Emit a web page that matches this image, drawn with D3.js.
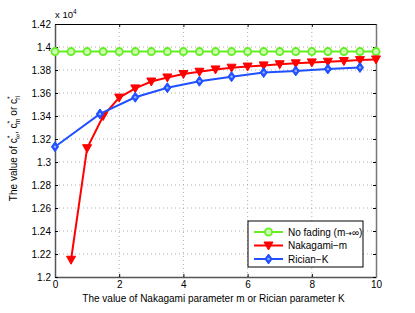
<!DOCTYPE html>
<html>
<head>
<meta charset="utf-8">
<script src="https://cdn.jsdelivr.net/npm/d3@7"></script>
<style>
  body { margin: 0; background: #fff; }
  svg { font-family: "Liberation Sans", Arial, sans-serif; }
</style>
</head>
<body>
<script>
// values in units of 10^4
const xNoFade = [0, 0.5, 1, 1.5, 2, 2.5, 3, 3.5, 4, 4.5, 5, 5.5, 6, 6.5, 7, 7.5, 8, 8.5, 9, 9.5, 10];
const yNoFade = [1.396, 1.396, 1.396, 1.396, 1.396, 1.396, 1.396, 1.396, 1.396, 1.396, 1.396,
  1.396, 1.396, 1.396, 1.396, 1.396, 1.396, 1.396, 1.396, 1.396, 1.396];

const xNaka = [0.5, 1, 1.5, 2, 2.5, 3, 3.5, 4, 4.5, 5, 5.5, 6, 6.5, 7, 7.5, 8, 8.5, 9, 9.5, 10];
const yNaka = [1.215, 1.312, 1.340, 1.356, 1.364, 1.370, 1.3735, 1.3765, 1.3785, 1.3805, 1.382,
  1.383, 1.384, 1.385, 1.3858, 1.3866, 1.3872, 1.3878, 1.3886, 1.3892];

const xRice = [0, 1.4, 2.5, 3.5, 4.5, 5.5, 6.5, 7.5, 8.5, 9.5];
const yRice = [1.3133, 1.3418, 1.3563, 1.3646, 1.3702, 1.3742, 1.3778, 1.3792, 1.3809, 1.3822];

const xTicks = [0, 2, 4, 6, 8, 10];
const yTicks = [1.2, 1.22, 1.24, 1.26, 1.28, 1.3, 1.32, 1.34, 1.36, 1.38, 1.4, 1.42];

const W = 415, H = 313;
const mLeft = 55, mRight = 376, mTop = 24, mBottom = 277;

const svg = d3.select("body").append("svg").attr("width", W).attr("height", H);

const x = d3.scaleLinear().domain([0, 10]).range([mLeft, mRight]);
const y = d3.scaleLinear().domain([1.2, 1.42]).range([mBottom, mTop]);

// grid
const grid = svg.append("g")
  .attr("stroke", "#999")
  .attr("stroke-width", 0.8)
  .attr("stroke-dasharray", "1,3");
grid.selectAll("line.v").data(xTicks.slice(1, -1)).join("line").attr("class", "v")
  .attr("x1", d => x(d)).attr("x2", d => x(d)).attr("y1", mTop).attr("y2", mBottom);
grid.selectAll("line.h").data(yTicks.slice(1, -1)).join("line").attr("class", "h")
  .attr("x1", mLeft).attr("x2", mRight).attr("y1", d => y(d)).attr("y2", d => y(d));

// axes
const fmt = d => String(+d.toFixed(2));
svg.append("g").attr("transform", `translate(0,${mBottom})`)
  .call(d3.axisBottom(x).tickValues(xTicks).tickSizeInner(-3).tickSizeOuter(0).tickPadding(4))
  .call(g => g.select(".domain").attr("stroke", "#555").attr("stroke-width", 1.5));
svg.append("g").attr("transform", `translate(0,${mTop})`)
  .call(d3.axisTop(x).tickValues(xTicks).tickSizeInner(-3).tickSizeOuter(0).tickFormat(""))
  .call(g => g.select(".domain").attr("stroke-width", 1));
svg.append("g").attr("transform", `translate(${mLeft},0)`)
  .call(d3.axisLeft(y).tickValues(yTicks).tickSizeInner(-3).tickSizeOuter(0).tickPadding(4).tickFormat(fmt))
  .call(g => g.select(".domain").attr("stroke", "#555").attr("stroke-width", 1.5));
svg.append("g").attr("transform", `translate(${mRight},0)`)
  .call(d3.axisRight(y).tickValues(yTicks).tickSizeInner(-3).tickSizeOuter(0).tickFormat(""))
  .call(g => g.select(".domain").attr("stroke", "#777").attr("stroke-width", 1.5));
svg.selectAll(".tick text").attr("font-size", 10).attr("fill", "#000")
  .attr("font-family", "Liberation Sans, Arial, sans-serif");
svg.selectAll(".tick line").attr("stroke", "#000");

// series
const series = [
  { name: ["No fading (m", "\u2192", "\u221e)"], xs: xNoFade, ys: yNoFade, color: "#66ee22", shape: "circle" },
  { name: ["Nakagami\u2212m"], xs: xNaka, ys: yNaka, color: "#ff0000", shape: "tri" },
  { name: ["Rician\u2212K"], xs: xRice, ys: yRice, color: "#2050ff", shape: "diamond" }
];

function marker(g, s, cx, cy) {
  if (s.shape === "circle") {
    g.append("circle").attr("cx", cx).attr("cy", cy).attr("r", 3.6)
      .attr("fill", "#c8ffb0").attr("stroke", s.color).attr("stroke-width", 1.8);
  } else if (s.shape === "tri") {
    g.append("path").attr("d", `M${cx - 4.5},${cy - 3.5}L${cx + 4.5},${cy - 3.5}L${cx},${cy + 4.5}Z`)
      .attr("fill", s.color).attr("stroke", s.color).attr("stroke-width", 1);
  } else {
    g.append("path").attr("d", `M${cx},${cy - 5}L${cx + 3.6},${cy}L${cx},${cy + 5}L${cx - 3.6},${cy}Z`)
      .attr("fill", s.color).attr("stroke", s.color).attr("stroke-width", 1);
    g.append("circle").attr("cx", cx).attr("cy", cy).attr("r", 1.3).attr("fill", "#8fb0ff");
  }
}

const line = d3.line().x(d => x(d[0])).y(d => y(d[1]));
series.forEach(s => {
  const pts = s.xs.map((v, i) => [v, s.ys[i]]);
  const g = svg.append("g");
  g.append("path").datum(pts).attr("d", line)
    .attr("fill", "none").attr("stroke", s.color).attr("stroke-width", 2);
  pts.forEach(p => marker(g, s, x(p[0]), y(p[1])));
});

// exponent label
const ex = svg.append("text").attr("x", mLeft).attr("y", 18).attr("font-size", 9.5);
ex.append("tspan").text("x 10");
ex.append("tspan").attr("font-size", 6.5).attr("dy", -4).text("4");

// x label
svg.append("text").attr("x", (mLeft + mRight) / 2 - 2).attr("y", 302).attr("text-anchor", "middle")
  .attr("font-size", 10).text("The value of Nakagami parameter m or Rician parameter K");

// y label
const yl = svg.append("text").attr("transform", `translate(17,${(mTop + mBottom) / 2 - 2}) rotate(-90)`)
  .attr("text-anchor", "middle").attr("font-size", 10);
yl.append("tspan").text("The value of c");
yl.append("tspan").attr("font-size", 7).attr("dy", -5).text("*");
yl.append("tspan").attr("font-size", 7).attr("dx", -3.5).attr("dy", 8).text("\u221e");
yl.append("tspan").attr("dy", -3).text(", c");
yl.append("tspan").attr("font-size", 7).attr("dy", -5).text("*");
yl.append("tspan").attr("font-size", 7).attr("dx", -3.5).attr("dy", 8).text("m");
yl.append("tspan").attr("dy", -3).text(" or c");
yl.append("tspan").attr("font-size", 7).attr("dy", -5).text("*");
yl.append("tspan").attr("font-size", 7).attr("dx", -3.5).attr("dy", 8).text("ri");

// legend
const lg = svg.append("g").attr("transform", "translate(248,221)");
lg.append("rect").attr("width", 115).attr("height", 46).attr("fill", "#fff").attr("stroke", "#000").attr("stroke-width", 1);
series.forEach((s, i) => {
  const cy = 11 + i * 13.5;
  lg.append("line").attr("x1", 6).attr("x2", 35).attr("y1", cy).attr("y2", cy)
    .attr("stroke", s.color).attr("stroke-width", 2);
  marker(lg, s, 20.5, cy);
  const t = lg.append("text").attr("x", 40).attr("y", cy + 3.5).attr("font-size", 10);
  s.name.forEach(part => {
    const sp = t.append("tspan").text(part);
    if (part === "\u2192") sp.attr("font-family", "DejaVu Sans").attr("font-size", 8);
  });
});
</script>
</body>
</html>
